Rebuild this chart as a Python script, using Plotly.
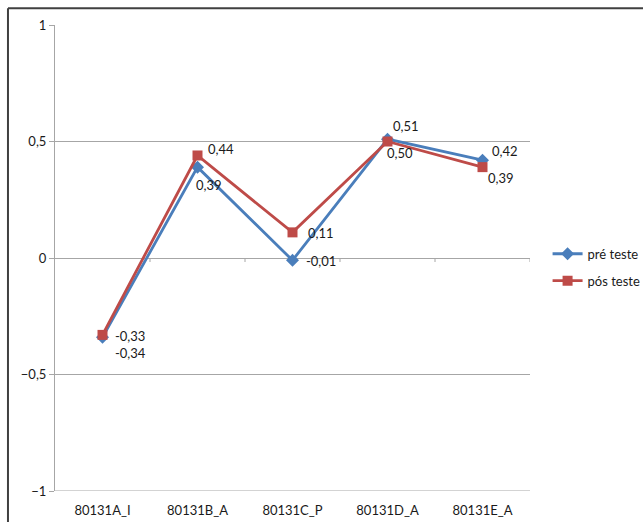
import plotly.graph_objects as go

# Categories and series values
categories = ["80131A_I", "80131B_A", "80131C_P", "80131D_A", "80131E_A"]
pre_teste = [-0.34, 0.39, -0.01, 0.51, 0.42]
pos_teste = [-0.33, 0.44, 0.11, 0.50, 0.39]
y_ticks = [-1, -0.5, 0, 0.5, 1]

BLUE = "#4A7EBB"
RED = "#BE4B48"
GRID = "#A6A6A6"
FONT = "Lato"
FSIZE = 13

# pixel offsets (x, y) of each data label relative to its point
pre_offsets = [(10, -16), (-4, -18), (11, -1), (3, 13), (7, 9)]
pos_offsets = [(10, -1), (8, 6), (13, -1), (-3, -11), (3, -11)]


def fmt(v):
    return f"{v:.2f}".replace(".", ",")


fig = go.Figure()
fig.add_trace(go.Scatter(
    x=categories, y=pre_teste, name="pré teste", mode="lines+markers",
    line=dict(color=BLUE, width=2.8),
    marker=dict(symbol="diamond", size=10, color=BLUE),
    legendgroup="a",
))
fig.add_trace(go.Scatter(
    x=categories, y=pos_teste, name="pós teste", mode="lines+markers",
    line=dict(color=RED, width=2.8),
    marker=dict(symbol="square", size=10, color=RED),
    legendgroup="b",
))

annotations = []
for vals, offs in ((pre_teste, pre_offsets), (pos_teste, pos_offsets)):
    for c, v, (dx, dy) in zip(categories, vals, offs):
        annotations.append(dict(
            x=c, y=v, text=fmt(v), showarrow=False,
            xanchor="left", yanchor="middle", xshift=dx, yshift=dy,
            font=dict(family=FONT, size=FSIZE, color="#1a1a1a"),
        ))

shapes = []
# horizontal axis crossing at zero: small tick marks between categories
for k in range(len(categories)):
    shapes.append(dict(
        type="line", xref="x", yref="y", x0=k + 0.5, x1=k + 0.5,
        ysizemode="pixel", yanchor=0, y0=0, y1=-4,
        line=dict(color=GRID, width=1),
    ))
# bottom gridline at the lower end of the value axis
shapes.append(dict(type="line", xref="paper", yref="y",
                   x0=0, x1=1, y0=min(y_ticks), y1=min(y_ticks),
                   line=dict(color=GRID, width=1), layer="below"))
# chart frame (left and top edges)
shapes.append(dict(type="line", xref="paper", yref="paper",
                   x0=-0.099, x1=-0.099, y0=-0.2, y1=1.036,
                   line=dict(color="#404040", width=2)))
shapes.append(dict(type="line", xref="paper", yref="paper",
                   x0=-0.099, x1=1.3, y0=1.036, y1=1.036,
                   line=dict(color="#404040", width=2)))

fig.update_layout(
    width=643, height=522,
    margin=dict(l=55, r=113, t=25, b=31, autoexpand=False),
    paper_bgcolor="white", plot_bgcolor="white",
    separators=",.",
    font=dict(family=FONT, size=FSIZE, color="#1a1a1a"),
    showlegend=True,
    legend=dict(x=1.037, y=0.48, xanchor="left", yanchor="middle",
                font=dict(family=FONT, size=FSIZE), tracegroupgap=7,
                bgcolor="rgba(0,0,0,0)"),
    annotations=annotations,
    shapes=shapes,
    xaxis=dict(
        type="category", range=[-0.5, len(categories) - 0.5],
        showgrid=False, zeroline=False, showline=False,
        ticks="", ticklabelstandoff=10,
        tickfont=dict(family=FONT, size=FSIZE),
    ),
    yaxis=dict(
        range=[-1, 1], tickvals=y_ticks, tickformat="~g",
        showgrid=True, gridcolor=GRID, gridwidth=1,
        zeroline=True, zerolinecolor=GRID, zerolinewidth=1,
        showline=True, linecolor=GRID, linewidth=1,
        ticks="outside", ticklen=5, tickcolor=GRID,
        tickfont=dict(family=FONT, size=FSIZE),
    ),
)

fig.write_html("out.html")
